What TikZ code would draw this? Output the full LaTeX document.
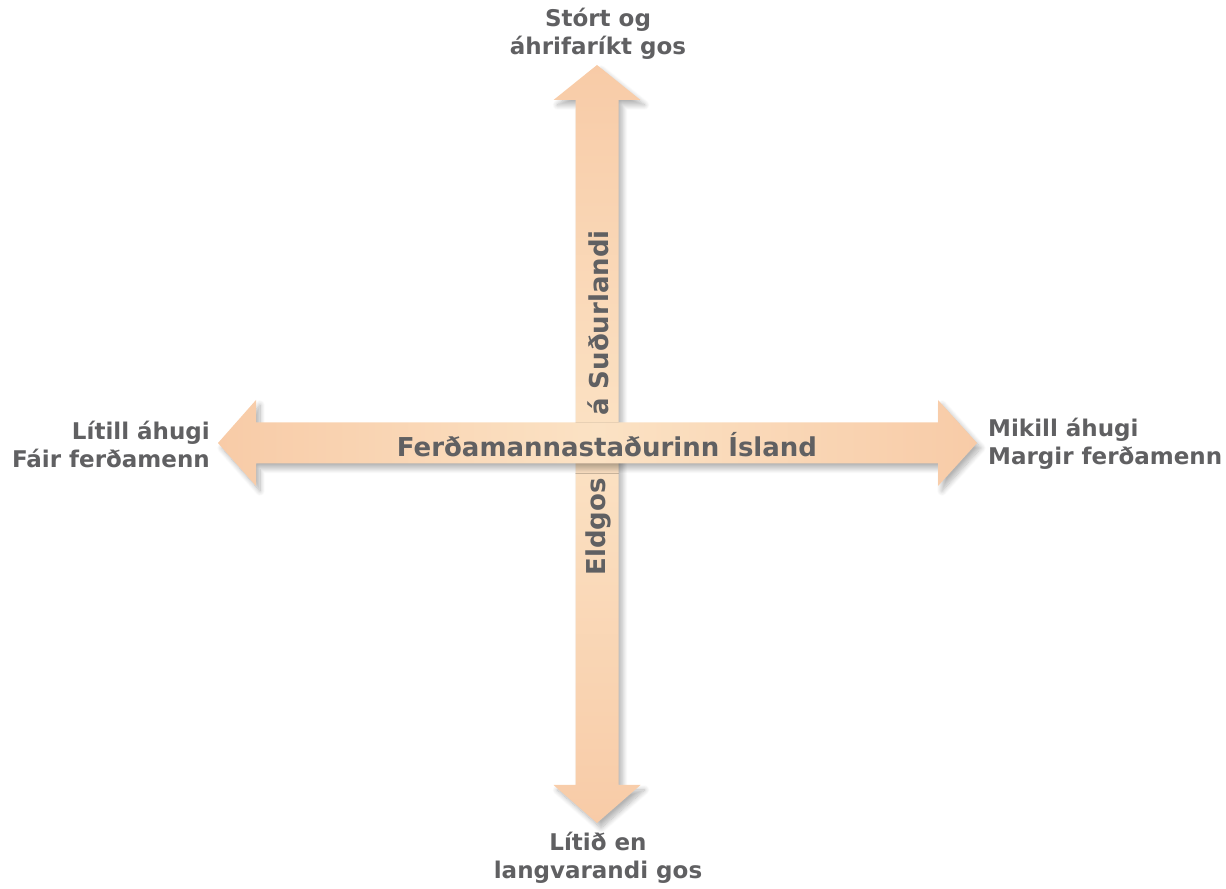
\documentclass[tikz,border=0pt]{standalone}
\usepackage{fontspec}
\setmainfont{DejaVu Sans}
\usepackage{tikz}
\usetikzlibrary{shadows.blur}

\definecolor{peachdark}{HTML}{F5B48A}
\definecolor{peachlight}{HTML}{FBE2C4}
\definecolor{labelgrey}{HTML}{606062}
\pgfdeclarehorizontalshading{peachbar}{100bp}{color(0bp)=(peachdark); color(50bp)=(peachlight); color(100bp)=(peachdark)}

\tikzset{
  axisarrow/.style={shading=peachbar, blur shadow={shadow xshift=4bp, shadow yshift=-5bp, shadow blur radius=5bp, shadow blur steps=10, shadow opacity=30}},
  endlabel/.style={text=labelgrey, font=\bfseries\fontsize{23bp}{28bp}\selectfont, inner sep=0pt},
  barlabel/.style={text=labelgrey, font=\bfseries\fontsize{26bp}{30bp}\selectfont, inner sep=0pt},
}

\begin{document}
\begin{tikzpicture}[line join=bevel]
  \useasboundingbox (0bp,0bp) rectangle (1226bp,889bp);
%%
  % Arrow: vertical (eruption size)
  \shade [axisarrow, shading angle=90] (597bp,824bp) -- (640.5bp,789bp) -- (618.5bp,789bp) -- (618.5bp,104bp)
    -- (640.5bp,104bp) -- (597bp,66bp) -- (553.5bp,104bp) -- (575.5bp,104bp) -- (575.5bp,789bp) -- (553.5bp,789bp) -- cycle;
  % Arrow: horizontal (interest)
  \shade [axisarrow] (218bp,446bp) -- (256bp,489bp) -- (256bp,466.5bp) -- (938bp,466.5bp)
    -- (938bp,489bp) -- (977bp,446bp) -- (938bp,403bp) -- (938bp,425.5bp) -- (256bp,425.5bp) -- (256bp,403bp) -- cycle;
  % Node: bar texts
  \node [barlabel] (island) at (607bp,444bp) {Ferðamannastaðurinn Ísland};
  \node [barlabel, rotate=90] (sudurland) at (598bp,566bp) {á Suðurlandi};
  \node [barlabel, rotate=90] (eldgos) at (598bp,362bp) {Eldgos};
  % Node: end labels
  \node [endlabel, align=center] (big) at (598bp,855bp) {Stórt og\\áhrifaríkt gos};
  \node [endlabel, align=center] (small) at (598bp,31bp) {Lítið en\\langvarandi gos};
  \node [endlabel, align=right, anchor=east] (few) at (210bp,445bp) {Lítill áhugi\\Fáir ferðamenn};
  \node [endlabel, align=left, anchor=west] (many) at (988bp,445bp) {Mikill áhugi\\Margir ferðamenn};
%
\end{tikzpicture}
\end{document}
